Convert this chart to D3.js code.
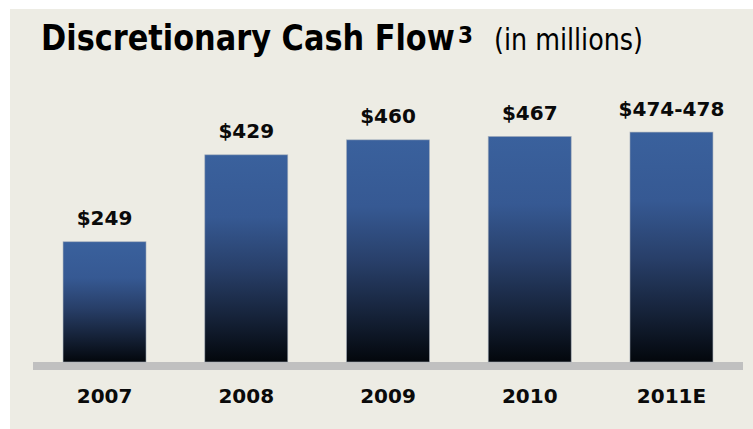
<!DOCTYPE html>
<html>
<head>
<meta charset="utf-8">
<script src="https://cdn.jsdelivr.net/npm/d3@7"></script>
<style>
  html, body { margin: 0; padding: 0; background: #ffffff; }
  svg { display: block; }
</style>
</head>
<body>
<svg id="chart" width="753" height="429"></svg>
<script>
// Discretionary cash flow, $ millions (2011 is an estimate range; bar uses its midpoint)
const years = ["2007", "2008", "2009", "2010", "2011E"];
const values = [249, 429, 460, 467, 476];
const valueLabels = ["$249", "$429", "$460", "$467", "$474-478"];

const titleText = "Discretionary Cash Flow";
const titleSup = "3";
const subtitleText = "(in millions)";

const W = 753, H = 429;
const svg = d3.select("#chart");

// panel background
svg.append("rect")
  .attr("x", 10).attr("y", 9)
  .attr("width", W - 10).attr("height", H - 9)
  .attr("fill", "#edece4");

// per-bar vertical gradient: steel blue at top fading to near-black
const defs = svg.append("defs");
const grad = defs.append("linearGradient")
  .attr("id", "barGrad")
  .attr("x1", 0).attr("y1", 0).attr("x2", 0).attr("y2", 1);
[
  [0, "#3a619d"],
  [0.3, "#365993"],
  [0.55, "#283f69"],
  [0.78, "#16233a"],
  [1, "#03070c"]
].forEach(([o, c]) => grad.append("stop").attr("offset", o).attr("stop-color", c));

const baseY = 362;
const x = d3.scaleBand()
  .domain(years)
  .range([33, 743])
  .paddingInner(0.4145)
  .paddingOuter(0.212);

const y = d3.scaleLinear()
  .domain([0, 500])
  .range([baseY, baseY - 241.5]);

// baseline band
svg.append("rect")
  .attr("x", 33).attr("y", baseY)
  .attr("width", 743 - 33).attr("height", 8)
  .attr("fill", "#c0c0c0");

// bars
svg.append("g").selectAll("rect")
  .data(values)
  .join("rect")
  .attr("x", (d, i) => x(years[i]))
  .attr("y", d => y(d))
  .attr("width", x.bandwidth())
  .attr("height", d => y(0) - y(d))
  .attr("fill", "url(#barGrad)")
  .attr("stroke", "#a7afbb")
  .attr("stroke-opacity", 0.7)
  .attr("stroke-width", 0.8);

const boldFont = "'DejaVu Sans', Verdana, sans-serif";

// value labels
svg.append("g").selectAll("text")
  .data(values)
  .join("text")
  .attr("x", (d, i) => x(years[i]) + x.bandwidth() / 2)
  .attr("y", d => y(d) - 16.5)
  .attr("text-anchor", "middle")
  .attr("font-family", boldFont)
  .attr("font-weight", "bold")
  .attr("font-size", 20)
  .attr("fill", "#0a0a0a")
  .text((d, i) => valueLabels[i]);

// category axis (labels only)
const xAxis = d3.axisBottom(x).tickSize(0).tickPadding(0);
const axisG = svg.append("g")
  .attr("transform", `translate(0, ${403})`)
  .call(xAxis);
axisG.select(".domain").remove();
axisG.selectAll("text")
  .attr("dy", 0)
  .attr("y", 0)
  .attr("font-family", boldFont)
  .attr("font-weight", "bold")
  .attr("font-size", 20)
  .attr("fill", "#0a0a0a");

// text placed at (tx, ty) and squeezed horizontally to at most maxW
function fittedText(str, tx, ty, maxW, attrs) {
  const g = svg.append("g");
  const t = g.append("text").attr("x", 0).attr("y", 0).text(str);
  Object.entries(attrs).forEach(([k, v]) => t.attr(k, v));
  const w = t.node().getComputedTextLength();
  const k = w > maxW ? maxW / w : 1;
  g.attr("transform", `translate(${tx},${ty}) scale(${k},1)`);
  return g;
}

// title
fittedText(titleText, 41, 50, 414, {
  "font-family": boldFont, "font-weight": "bold", "font-size": 36, "fill": "#000"
});

// footnote marker
fittedText(titleSup, 458, 43, 15, {
  "font-family": boldFont, "font-weight": "bold", "font-size": 23, "fill": "#000"
});

fittedText(subtitleText, 494, 50, 149, {
  "font-family": "'DejaVu Sans Condensed', 'DejaVu Sans', Tahoma, sans-serif",
  "font-size": 30, "fill": "#000"
});
</script>
</body>
</html>
